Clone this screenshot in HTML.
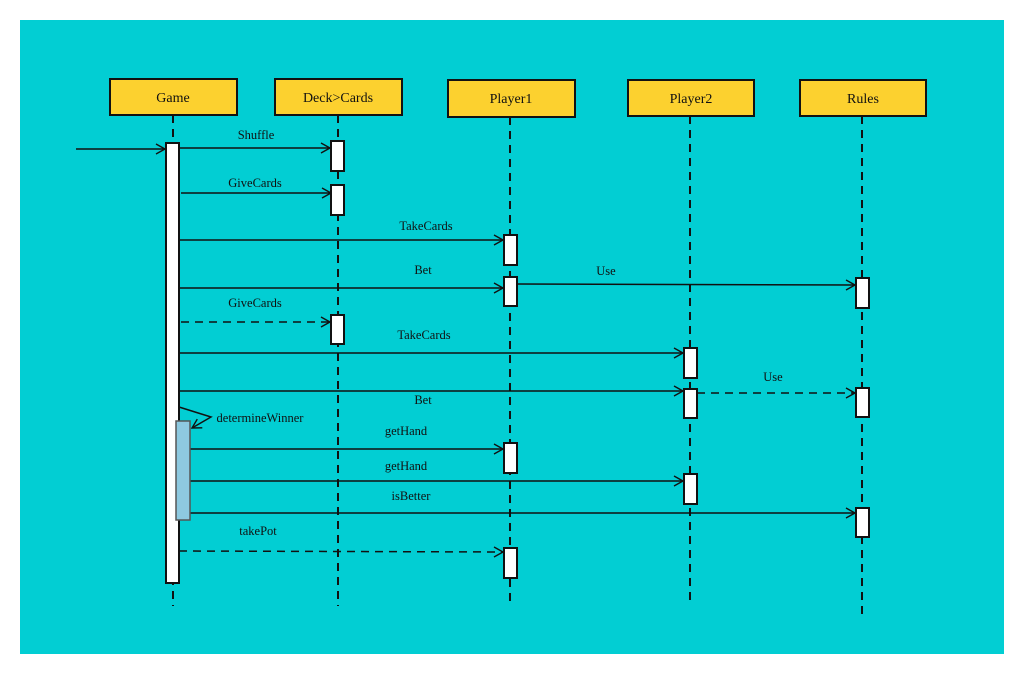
<!DOCTYPE html>
<html><head><style>html,body{margin:0;padding:0;background:#fff;}svg{display:block}</style></head>
<body>
<svg width="1024" height="674" xmlns="http://www.w3.org/2000/svg" font-family="Liberation Serif, serif" font-size="12.5" fill="#111">
<defs>
<marker id="a" markerWidth="12" markerHeight="12" refX="10" refY="6" orient="auto" markerUnits="userSpaceOnUse">
<path d="M1,1 L10,6 L1,11" fill="none" stroke="#111" stroke-width="1.4"/></marker>
</defs>
<rect x="20" y="20" width="984" height="634" fill="#02ced3"/>
<g stroke="#111" stroke-width="2" fill="#fcd12f">
<rect x="110" y="79" width="127" height="36"/>
<rect x="275" y="79" width="127" height="36"/>
<rect x="448" y="80" width="127" height="37"/>
<rect x="628" y="80" width="126" height="36"/>
<rect x="800" y="80" width="126" height="36"/>
</g>
<g font-size="14" text-anchor="middle">
<text x="173" y="102">Game</text><text x="338" y="102">Deck&gt;Cards</text><text x="511" y="103">Player1</text><text x="691" y="103">Player2</text><text x="863" y="103">Rules</text>
</g>
<g stroke="#111" stroke-width="2" stroke-dasharray="8,6">
<line x1="173" y1="115" x2="173" y2="606"/>
<line x1="338" y1="115" x2="338" y2="606"/>
<line x1="510" y1="117" x2="510" y2="606"/>
<line x1="690" y1="116" x2="690" y2="606"/>
<line x1="862" y1="116" x2="862" y2="617"/>
</g>
<g stroke="#111" stroke-width="1.5" fill="none" marker-end="url(#a)">
<line x1="76" y1="149" x2="165" y2="149"/>
<line x1="179" y1="148" x2="330" y2="148"/>
<line x1="181" y1="193" x2="331" y2="193"/>
<line x1="179" y1="240" x2="503" y2="240"/>
<line x1="179" y1="288" x2="503" y2="288"/>
<line x1="517" y1="284" x2="855" y2="285"/>
<line x1="181" y1="322" x2="330" y2="322" stroke-dasharray="8,6"/>
<line x1="179" y1="353" x2="683" y2="353"/>
<line x1="179" y1="391" x2="683" y2="391"/>
<line x1="697" y1="393" x2="855" y2="393" stroke-dasharray="8,6"/>
<line x1="190" y1="449" x2="503" y2="449"/>
<line x1="188" y1="481" x2="683" y2="481"/>
<line x1="190" y1="513" x2="855" y2="513"/>
<line x1="179" y1="551" x2="503" y2="552" stroke-dasharray="8,6"/>
<polyline points="179,407 211,417 192,428"/>
</g>
<g stroke="#111" stroke-width="2" fill="#fff">
<rect x="166" y="143" width="13" height="440"/>
<rect x="331" y="141" width="13" height="30"/>
<rect x="331" y="185" width="13" height="30"/>
<rect x="331" y="315" width="13" height="29"/>
<rect x="504" y="235" width="13" height="30"/>
<rect x="504" y="277" width="13" height="29"/>
<rect x="504" y="443" width="13" height="30"/>
<rect x="504" y="548" width="13" height="30"/>
<rect x="684" y="348" width="13" height="30"/>
<rect x="684" y="389" width="13" height="29"/>
<rect x="684" y="474" width="13" height="30"/>
<rect x="856" y="278" width="13" height="30"/>
<rect x="856" y="388" width="13" height="29"/>
<rect x="856" y="508" width="13" height="29"/>
</g>
<rect x="176" y="421" width="14" height="99" fill="#8ec9e0" stroke="#555" stroke-width="1.5"/>
<g text-anchor="middle">
<text x="256" y="139">Shuffle</text>
<text x="255" y="187">GiveCards</text>
<text x="426" y="230">TakeCards</text>
<text x="423" y="274">Bet</text>
<text x="606" y="275">Use</text>
<text x="255" y="307">GiveCards</text>
<text x="424" y="339">TakeCards</text>
<text x="423" y="404">Bet</text>
<text x="773" y="381">Use</text>
<text x="260" y="422">determineWinner</text>
<text x="406" y="435">getHand</text>
<text x="406" y="470">getHand</text>
<text x="411" y="500">isBetter</text>
<text x="258" y="535">takePot</text>
</g>
</svg>
</body></html>
